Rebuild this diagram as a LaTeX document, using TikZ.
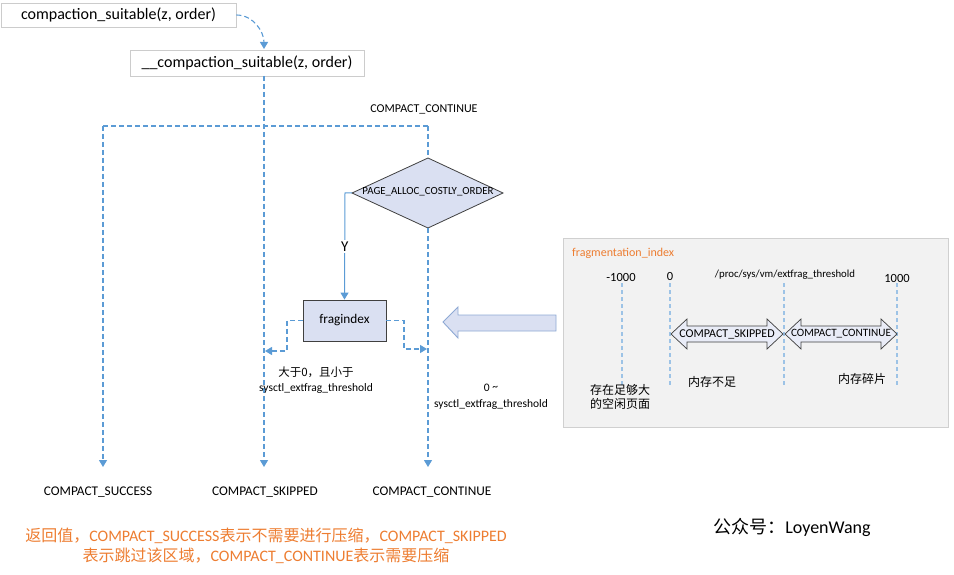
\documentclass[tikz,border=0pt]{standalone}
\usepackage{fontspec}
\setmainfont{Carlito}
\newfontfamily\cjk{Noto Sans CJK SC}
\usetikzlibrary{arrows.meta}
\definecolor{dblue}{HTML}{5B9BD5}
\definecolor{lblue}{HTML}{9DC3E6}
\definecolor{lav}{HTML}{DAE0F2}
\definecolor{orng}{HTML}{ED7D31}
\definecolor{panelbg}{HTML}{F2F2F2}
\definecolor{panelbd}{HTML}{D0D0D0}
\definecolor{boxbd}{HTML}{CCCCCC}
\definecolor{shapebd}{HTML}{404040}
\definecolor{bigbd}{HTML}{8EA9D4}
\newcommand\fsz[1]{\fontsize{#1}{#1}\selectfont}
\tikzset{
  fnbox/.style={draw=boxbd, line width=0.8pt, fill=white, inner sep=0pt, font=\fsz{16}},
  dline/.style={draw=dblue, line width=1.1pt, dash pattern=on 5pt off 3pt},
  darrow/.style={dline, -{Triangle[length=7pt,width=8pt]}},
  sarrow/.style={draw=dblue, line width=1pt, -{Triangle[length=7pt,width=8pt]}},
  lbl/.style={font=\fsz{13.3}, inner sep=0pt},
  shp/.style={draw=shapebd, line width=0.8pt, fill=lav},
  tick/.style={draw=lblue, line width=1.1pt, dash pattern=on 4pt off 3pt},
  dbl/.style={draw=shapebd, line width=0.7pt, fill=lav!60},
}
\begin{document}
\begin{tikzpicture}[x=1pt,y=-1pt]
\useasboundingbox (0,0) rectangle (954,575);
% top boxes
\node[fnbox, minimum width=235pt, minimum height=24pt] (b1) at (118.5,15) {compaction\_suitable(z, order)};
\node[fnbox, minimum width=234pt, minimum height=26pt] (b2) at (247,63) {\_\_compaction\_suitable(z, order)};
\coordinate (b2in) at (264,49);
\coordinate (b2out) at (264,76);
\draw[darrow] (b1.east) to[out=0,in=90] (b2in);
% branch line
\coordinate (cL) at (103,126);
\coordinate (cR) at (428,126);
\draw[dline] (cL) -- (cR);
\node[font=\fsz{12}, inner sep=0pt] (ccLbl) at (424,109) {COMPACT\_CONTINUE};
% diamond
\coordinate (diaT) at (428,158);
\coordinate (diaR) at (503,193);
\coordinate (diaB) at (428,228);
\coordinate (diaL) at (352,193);
\draw[shp] (diaT) -- (diaR) -- (diaB) -- (diaL) -- cycle;
\node[font=\fsz{10.9}, inner sep=0pt] (dia) at (428,192) {PAGE\_ALLOC\_COSTLY\_ORDER};
% fragindex
\node[shp, minimum width=83pt, minimum height=41pt, inner sep=0pt, font=\fsz{13.3}] (fi) at (344.5,320.5) {fragindex};
% bottom labels
\node[lbl] (rSucc) at (98,492) {COMPACT\_SUCCESS};
\node[lbl] (rSkip) at (265,492) {COMPACT\_SKIPPED};
\node[lbl] (rCont) at (432,492) {COMPACT\_CONTINUE};
\coordinate (sIn) at (103,467);
\coordinate (kIn) at (264,467);
\coordinate (cIn) at (428,467);
% connectors
\draw[darrow] (b2out) -- (kIn);
\draw[darrow] (cL) -- (sIn);
\draw[dline] (cR) -- (diaT);
\draw[darrow] (diaB) -- (cIn);
\draw[sarrow] (diaL) -- (345,193) -- node[fill=white, inner sep=1.5pt, font=\fsz{15}] (ylbl) {Y} (fi.north);
\coordinate (fiL) at (265,351);
\coordinate (fiR) at (427,349);
\draw[darrow] (fi.west) -- (287,320.5) -- (287,351) -- (fiL);
\draw[darrow] (fi.east) -- (404,320.5) -- (404,349) -- (fiR);
% branch texts
\node[font=\fsz{11.5}, inner sep=0pt, align=center] (t1) at (316,380) {{\cjk 大于0，且小于}\\[3pt]sysctl\_extfrag\_threshold};
\node[font=\fsz{11.5}, inner sep=0pt, align=center] (t2) at (491,397) {0 \raisebox{0.3ex}{\textasciitilde}\\[4pt]sysctl\_extfrag\_threshold};
% big arrow
\draw[draw=bigbd, fill=lav, line width=0.9pt] (443,322) -- (458,307) -- (458,315) -- (556,315) -- (556,331) -- (458,331) -- (458,338) -- cycle;
% panel
\node[draw=panelbd, fill=panelbg, line width=0.9pt, minimum width=385pt, minimum height=189pt, inner sep=0pt] (panel) at (755.5,333) {};
\node[font=\fsz{12}, text=orng, anchor=west, inner sep=0pt] (ptitle) at (572,253) {fragmentation\_index};
\node[font=\fsz{12.5}, inner sep=0pt] (m1) at (621,277) {-1000};
\node[font=\fsz{12.5}, inner sep=0pt] (m2) at (670,276) {0};
\node[font=\fsz{10.8}, inner sep=0pt] (m3) at (785,275) {/proc/sys/vm/extfrag\_threshold};
\node[font=\fsz{12.5}, inner sep=0pt] (m4) at (897,278) {1000};
\draw[tick] (622,283) -- (622,385);
\draw[tick] (670,283) -- (670,385);
\draw[tick] (784,283) -- (784,385);
\draw[tick] (897,283) -- (897,385);
\draw[dbl] (671,334) -- (687,319) -- (687,326) -- (767,326) -- (767,319) -- (783,334) -- (767,349) -- (767,342) -- (687,342) -- (687,349) -- cycle;
\draw[dbl] (785,334) -- (801,319) -- (801,326) -- (881,326) -- (881,319) -- (897,334) -- (881,349) -- (881,342) -- (801,342) -- (801,349) -- cycle;
\node[font=\fsz{12}, inner sep=0pt] (aSkip) at (727,334) {COMPACT\_SKIPPED};
\node[font=\fsz{11.2}, inner sep=0pt] (aCont) at (841,334) {COMPACT\_CONTINUE};
\node[font=\fsz{12}, inner sep=0pt] (z1) at (712,382) {\cjk 内存不足};
\node[font=\fsz{12}, inner sep=0pt] (z2) at (862,379) {\cjk 内存碎片};
\node[font=\fsz{12}, inner sep=0pt, align=center] (z3) at (620,397) {\cjk 存在足够大\\[2pt]\cjk 的空闲页面};
% footer
\node[font=\fsz{16}, text=orng, inner sep=0pt, align=center] (note) at (266,546) {{\cjk 返回值，}COMPACT\_SUCCESS{\cjk 表示不需要进行压缩，}COMPACT\_SKIPPED\\[4pt]{\cjk 表示跳过该区域，}COMPACT\_CONTINUE{\cjk 表示需要压缩}};
\node[font=\fsz{18}, inner sep=0pt] (sig) at (792,527) {{\cjk 公众号：}LoyenWang};
\end{tikzpicture}
\end{document}
